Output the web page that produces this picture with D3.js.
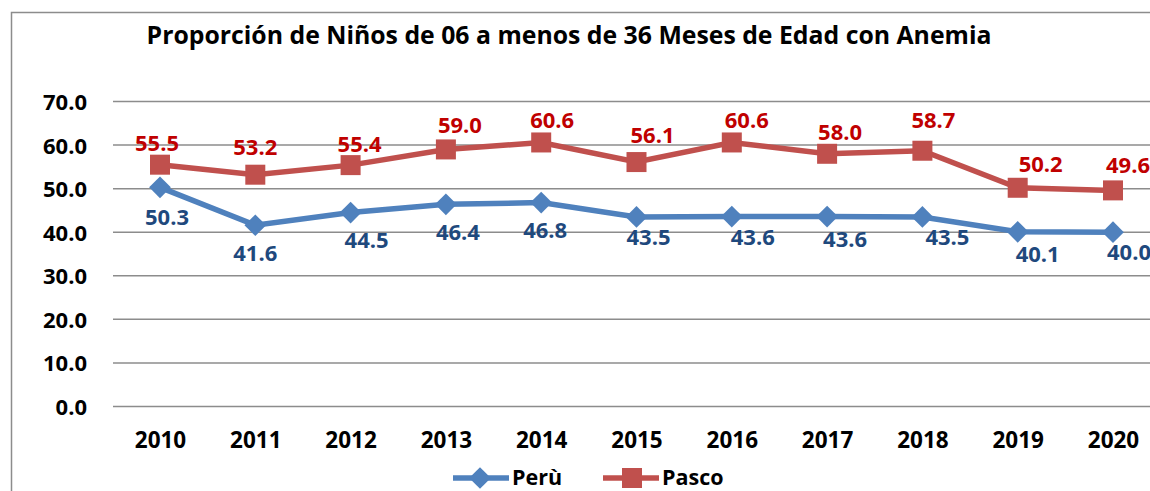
<!DOCTYPE html>
<html>
<head>
<meta charset="utf-8">
<script src="https://cdn.jsdelivr.net/npm/d3@7"></script>
<style>
  body { margin: 0; background: #fff; }
  svg { display: block; font-family: "Open Sans", "Lato", sans-serif; }
</style>
</head>
<body>
<svg id="chart" width="1150" height="491"></svg>
<script>
// chart values
const years = ["2010", "2011", "2012", "2013", "2014", "2015", "2016", "2017", "2018", "2019", "2020"];
const peru = [50.3, 41.6, 44.5, 46.4, 46.8, 43.5, 43.6, 43.6, 43.5, 40.1, 40.0];
const pasco = [55.5, 53.2, 55.4, 59.0, 60.6, 56.1, 60.6, 58.0, 58.7, 50.2, 49.6];
const yTicks = [0, 10, 20, 30, 40, 50, 60, 70];
const seriesNames = ["Perù", "Pasco"];

// label nudges (layout only, as placed in the original)
const pascoLabelDx = [-3, 0, 9, 14, 11, 16, 15, 13, 11, 23, 15];
const pascoLabelDy = [-14, -20, -13.5, -16, -14.5, -19, -14.5, -14, -23, -16, -17];
const peruLabelDx = [7, 0, 16, 12, 4, 12, 21, 18, 25, 20, 16];
const peruLabelDy = [38, 35.5, 35.5, 36, 35.5, 28, 28.5, 30.5, 28, 30, 28];

const svg = d3.select("#chart");

// outer frame (cut off on right/bottom like the original)
svg.append("rect")
  .attr("x", 11.5).attr("y", 12.5)
  .attr("width", 1200).attr("height", 600)
  .attr("fill", "none").attr("stroke", "#8c8c8c").attr("stroke-width", 1.5);

// title
svg.append("text")
  .attr("x", 569).attr("y", 44)
  .attr("text-anchor", "middle")
  .attr("font-size", 24.8).attr("font-weight", "bold")
  .attr("fill", "#000")
  .text("Proporción de Niños de 06 a menos de 36 Meses de Edad con Anemia");

// scales
const x = d3.scalePoint()
  .domain(years)
  .range([160, 1113]);

const y = d3.scaleLinear()
  .domain([0, 70])
  .range([406.5, 101.5]);

// gridlines
svg.append("g")
  .selectAll("line")
  .data(yTicks)
  .join("line")
  .attr("x1", 113).attr("x2", 1150)
  .attr("y1", d => y(d)).attr("y2", d => y(d))
  .attr("stroke", "#8c8c8c").attr("stroke-width", 1.5);

// y axis labels
const yAxis = d3.axisLeft(y).tickValues(yTicks).tickFormat(d3.format(".1f")).tickSize(0).tickPadding(0);
const gy = svg.append("g").attr("transform", "translate(87,0)").call(yAxis);
gy.select(".domain").remove();
gy.selectAll("text")
  .attr("font-size", 22).attr("font-weight", "bold").attr("fill", "#000")
  .attr("dy", null).attr("y", 8)
  .attr("font-family", "'Open Sans', sans-serif");

// x axis labels
const xAxis = d3.axisBottom(x).tickSize(0).tickPadding(0);
const gx = svg.append("g").call(xAxis);
gx.select(".domain").remove();
gx.selectAll("text")
  .attr("font-size", 22.5).attr("font-weight", "bold").attr("fill", "#000")
  .attr("dy", null).attr("y", 448)
  .attr("font-family", "'Open Sans', sans-serif");

const line = d3.line()
  .x((d, i) => x(years[i]))
  .y(d => y(d));

// Pasco
svg.append("path")
  .datum(pasco)
  .attr("d", line)
  .attr("fill", "none").attr("stroke", "#c0504d").attr("stroke-width", 5.5);

svg.append("g")
  .selectAll("rect")
  .data(pasco)
  .join("rect")
  .attr("x", (d, i) => x(years[i]) - 10)
  .attr("y", d => y(d) - 10)
  .attr("width", 20).attr("height", 20)
  .attr("fill", "#c0504d");

// Perù
svg.append("path")
  .datum(peru)
  .attr("d", line)
  .attr("fill", "none").attr("stroke", "#4f81bd").attr("stroke-width", 5.5);

const diamond = d3.symbol().type(d3.symbolDiamond2).size(300);
svg.append("g")
  .selectAll("path")
  .data(peru)
  .join("path")
  .attr("d", diamond)
  .attr("transform", (d, i) => `translate(${x(years[i])},${y(d)})`)
  .attr("fill", "#4f81bd");

// data labels
svg.append("g")
  .selectAll("text")
  .data(pasco)
  .join("text")
  .attr("x", (d, i) => x(years[i]) + pascoLabelDx[i])
  .attr("y", (d, i) => y(d) + pascoLabelDy[i])
  .attr("text-anchor", "middle")
  .attr("font-size", 22).attr("font-weight", "bold")
  .attr("fill", "#c00000")
  .text(d => d.toFixed(1));

svg.append("g")
  .selectAll("text")
  .data(peru)
  .join("text")
  .attr("x", (d, i) => x(years[i]) + peruLabelDx[i])
  .attr("y", (d, i) => y(d) + peruLabelDy[i])
  .attr("text-anchor", "middle")
  .attr("font-size", 22).attr("font-weight", "bold")
  .attr("fill", "#1f497d")
  .text(d => d.toFixed(1));

// legend
const legend = svg.append("g").attr("transform", "translate(0,478)");
const legendX = [453, 603];
const legendColors = ["#4f81bd", "#c0504d"];
seriesNames.forEach((name, i) => {
  const g = legend.append("g").attr("transform", `translate(${legendX[i]},0)`);
  g.append("line")
    .attr("x1", 0).attr("x2", 56)
    .attr("stroke", legendColors[i]).attr("stroke-width", 5.5);
  if (i === 0) {
    g.append("path").attr("d", diamond).attr("transform", "translate(27,0)").attr("fill", legendColors[i]);
  } else {
    g.append("rect").attr("x", 19).attr("y", -10).attr("width", 20).attr("height", 20).attr("fill", legendColors[i]);
  }
  g.append("text")
    .attr("x", 59).attr("y", 7)
    .attr("font-size", 21.5).attr("font-weight", "bold").attr("fill", "#000")
    .text(name);
});
</script>
</body>
</html>
